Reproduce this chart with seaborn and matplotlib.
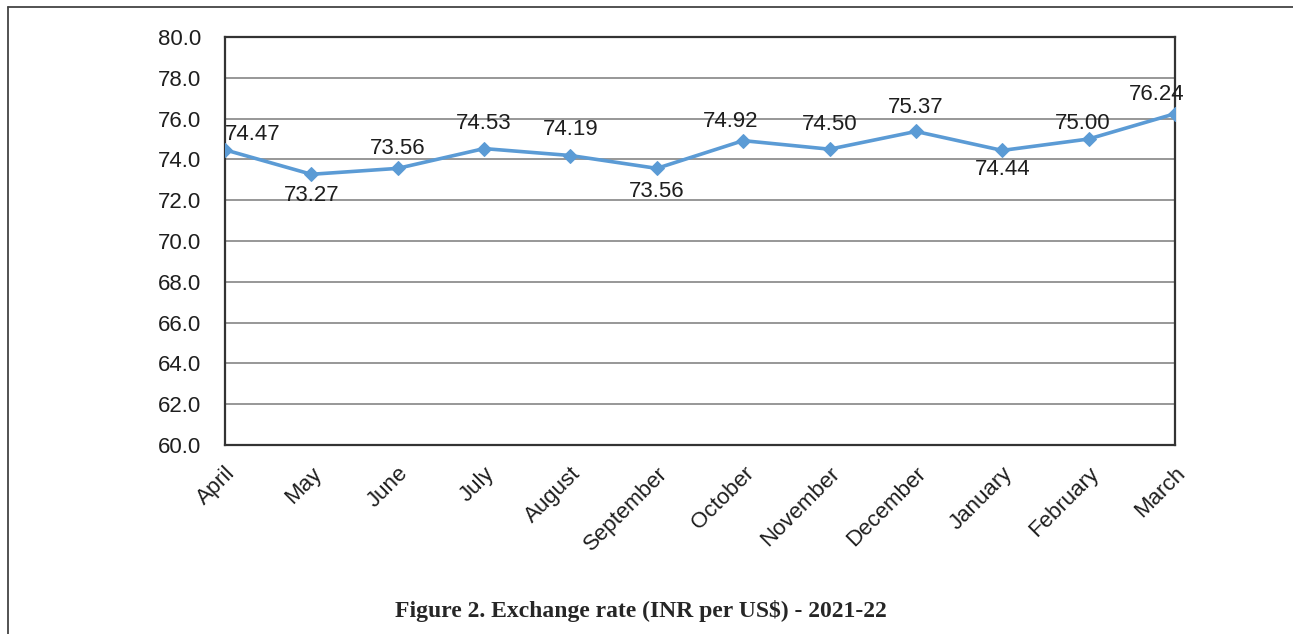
import matplotlib
matplotlib.use("Agg")
import matplotlib.pyplot as plt
from matplotlib.lines import Line2D
import seaborn as sns
import pandas as pd

months = ["April", "May", "June", "July", "August", "September",
          "October", "November", "December", "January", "February", "March"]
rates = [74.47, 73.27, 73.56, 74.53, 74.19, 73.56,
         74.92, 74.50, 75.37, 74.44, 75.00, 76.24]
y_ticks = [60.0, 62.0, 64.0, 66.0, 68.0, 70.0, 72.0, 74.0, 76.0, 78.0, 80.0]
caption = "Figure 2. Exchange rate (INR per US$) - 2021-22"

# label placement (style): offsets in points
label_offsets = [(20, 11), (0, -15), (0, 14), (0, 18), (0, 19), (0, -17),
                 (-9, 14), (0, 18), (0, 17), (0, -14), (-4, 11), (-13, 14)]

sns.set_style("white")
plt.rcParams["font.family"] = ["Liberation Sans", "DejaVu Sans"]

df = pd.DataFrame({"x": range(len(months)), "month": months, "rate": rates})

fig = plt.figure(figsize=(12.93, 6.34), dpi=100)
ax = fig.add_axes([225 / 1293, 1 - 445 / 634, 950 / 1293, 408 / 634])

for yv in y_ticks:
    ax.axhline(yv, color="#858585", lw=1.2, zorder=0)

sns.lineplot(data=df, x="x", y="rate", ax=ax, color="#5b9bd5", lw=2.6,
             marker="D", markersize=7, markeredgecolor="#5b9bd5", zorder=3)

for i, (v, off) in enumerate(zip(rates, label_offsets)):
    ax.annotate(f"{v:.2f}", (i, v), xytext=off, textcoords="offset points",
                ha="center", va="center", fontsize=16, color="#1e1e1e", zorder=4)

ax.set_xlim(0, len(months) - 1)
ax.set_ylim(60, 80)
ax.set_yticks(y_ticks)
ax.set_yticklabels([f"{t:.1f}" for t in y_ticks], fontsize=16, color="#1e1e1e")
ax.set_xticks(range(len(months)))
ax.set_xticklabels(months, fontsize=16, color="#1e1e1e", rotation=45,
                   ha="right", va="top", rotation_mode="anchor")
ax.tick_params(axis="both", length=0)
ax.tick_params(axis="y", pad=17)
ax.tick_params(axis="x", pad=13)
ax.set_xlabel("")
ax.set_ylabel("")
for s in ax.spines.values():
    s.set_color("#333333")
    s.set_linewidth(1.6)

fig.add_artist(Line2D([8 / 1293, 1.0], [1 - 7 / 634, 1 - 7 / 634],
                      transform=fig.transFigure, color="#444444", lw=1.3))
fig.add_artist(Line2D([8 / 1293, 8 / 1293], [0, 1 - 7 / 634],
                      transform=fig.transFigure, color="#444444", lw=1.3))

fig.text(641 / 1293, 1 - 611 / 634, caption, ha="center", va="center",
         fontsize=17, fontweight="bold", family=["Liberation Serif", "DejaVu Serif"])

fig.savefig("out.png", dpi=100)
